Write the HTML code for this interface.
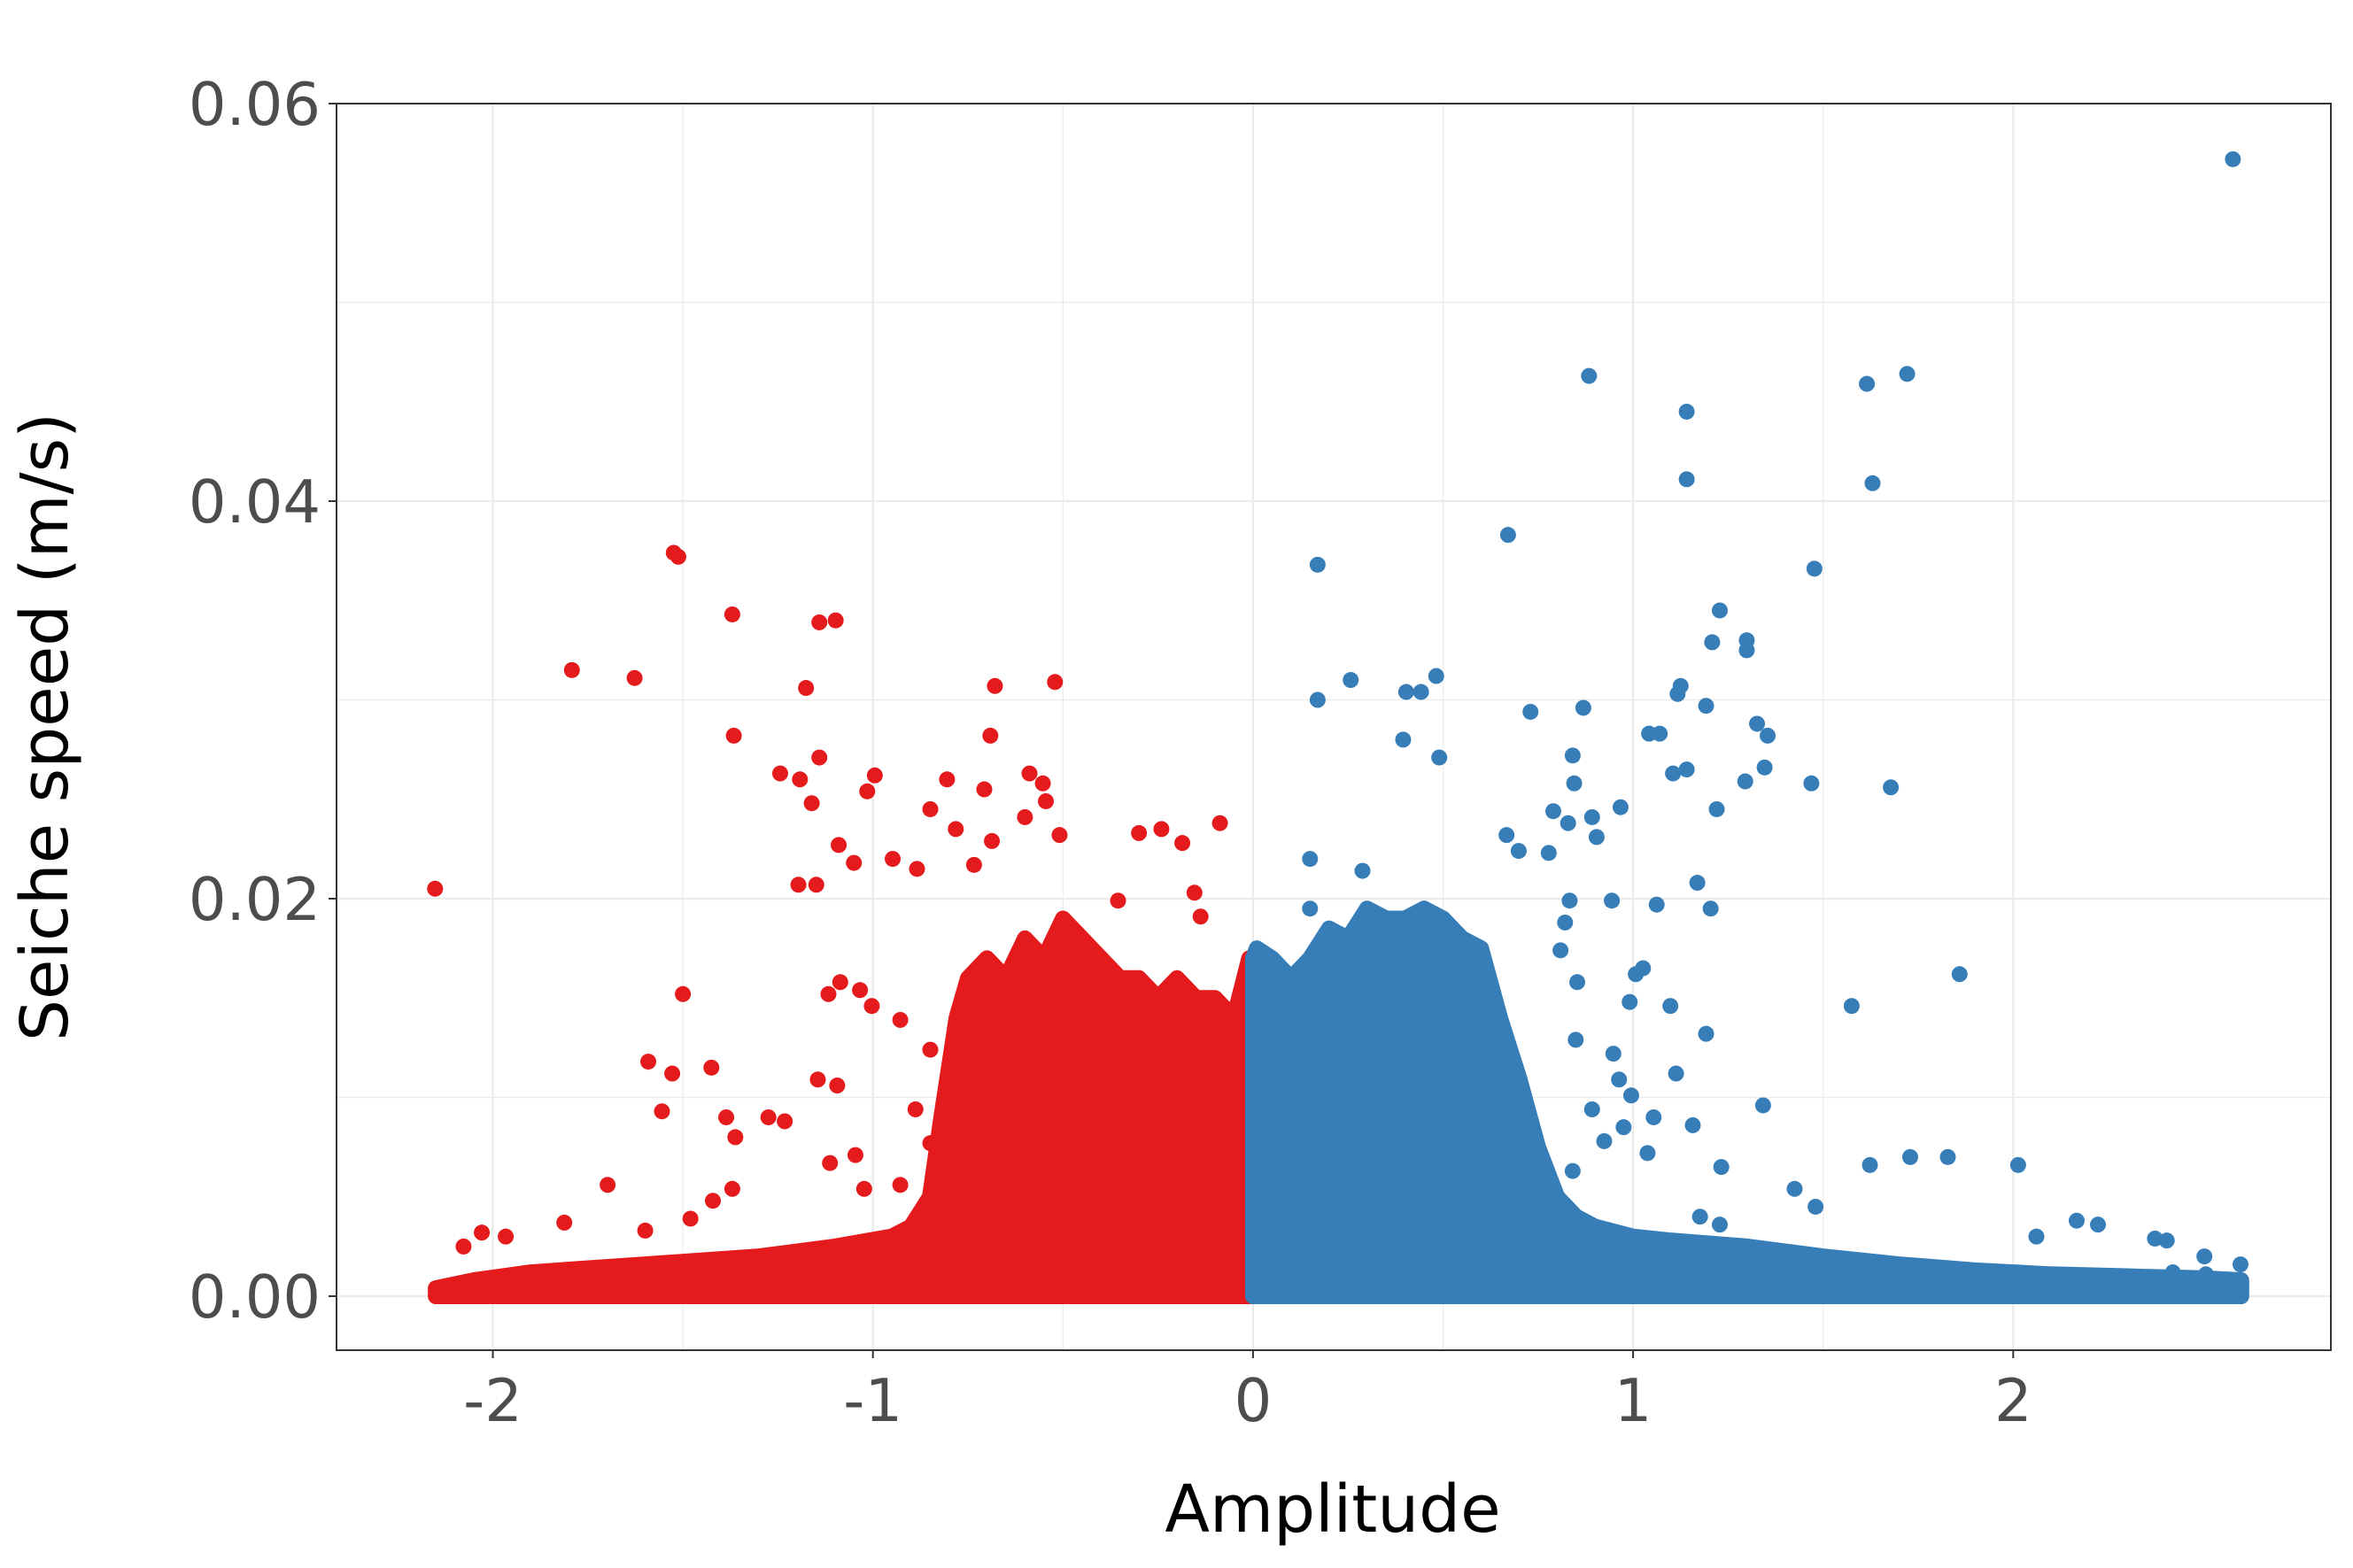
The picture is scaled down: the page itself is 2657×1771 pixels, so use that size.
<!DOCTYPE html>
<html><head><meta charset="utf-8"><style>
html,body{margin:0;padding:0;background:#fff;}
svg{display:block;}
text{font-family:"DejaVu Sans","Liberation Sans",sans-serif;}
</style></head><body>
<svg id="chart" width="2657" height="1771" viewBox="0 0 2657 1771" xmlns="http://www.w3.org/2000/svg">
<rect width="2657" height="1771" fill="#fff"/>
<g id="grid"></g>
<g id="dense"></g>
<g id="pts"></g>
<rect x="380" y="117" width="2252" height="1408" fill="none" stroke="#333" stroke-width="2"/>
<g id="axes"></g>
<text x="1505" y="1730" font-size="74" text-anchor="middle" fill="#000">Amplitude</text>
<text transform="translate(76,821) rotate(-90)" font-size="74" text-anchor="middle" fill="#000">Seiche speed (m/s)</text>
</svg>
<script>
const xTicks=[-2,-1,0,1,2];
const xTickLabels=["-2","-1","0","1","2"];
const xMinor=[-1.5,-0.5,0.5,1.5];
const yTicks=[0,0.02,0.04,0.06];
const yTickLabels=["0.00","0.02","0.04","0.06"];
const yMinor=[0.01,0.03,0.05];
// dense envelope (amplitude, upper speed)
const redEnvX=[-2.15,-2.05,-1.9,-1.6,-1.3,-1.1,-0.95,-0.9,-0.85,-0.82,-0.78,-0.75,-0.7,-0.65,-0.6,-0.55,-0.5,-0.45,-0.4,-0.35,-0.3,-0.25,-0.2,-0.15,-0.1,-0.05,-0.01,0];
const redEnvY=[0.0004,0.0008,0.0012,0.0016,0.002,0.0025,0.003,0.0035,0.005,0.009,0.014,0.016,0.017,0.016,0.018,0.017,0.019,0.018,0.017,0.016,0.016,0.015,0.016,0.015,0.015,0.014,0.017,0.017];
const blueEnvX=[0,0.01,0.05,0.1,0.15,0.2,0.25,0.3,0.35,0.4,0.45,0.5,0.55,0.6,0.65,0.7,0.75,0.8,0.85,0.9,1.0,1.1,1.3,1.5,1.7,1.9,2.1,2.3,2.5,2.6];
const blueEnvY=[0.017,0.0175,0.017,0.016,0.017,0.0185,0.018,0.0195,0.019,0.019,0.0195,0.019,0.018,0.0175,0.014,0.011,0.0075,0.005,0.004,0.0035,0.003,0.0028,0.0025,0.002,0.0016,0.0013,0.0011,0.001,0.0009,0.0008];
const redX=[-2.152,-1.524,-1.512,-1.792,-1.627,-1.370,-1.141,-1.098,-1.366,-1.176,-1.244,-1.141,-1.192,-1.161,-1.015,-0.995,-0.679,-0.521,-0.691,-0.707,-0.805,-0.588,-0.553,-0.545,-0.509,-0.600,-0.687,-0.734,-0.782,-0.849,-0.948,-0.884,-1.050,-1.090,-1.149,-1.196,-0.186,-0.087,-0.300,-0.241,-0.154,-0.138,-0.355,-1.500,-1.591,-1.528,-1.555,-1.425,-1.386,-1.362,-1.275,-1.232,-1.145,-1.094,-1.698,-1.812,-2.029,-1.966,-2.077,-1.599,-1.480,-1.421,-1.370,-1.113,-1.046,-1.023,-0.928,-0.849,-0.730,-0.888,-1.003,-1.117,-1.086,-1.034,-0.928,-0.849];
const redY=[0.0205,0.0374,0.0372,0.0315,0.0311,0.0343,0.0339,0.0340,0.0282,0.0306,0.0263,0.0271,0.0260,0.0248,0.0254,0.0262,0.0307,0.0309,0.0282,0.0255,0.0260,0.0263,0.0258,0.0249,0.0232,0.0241,0.0229,0.0217,0.0235,0.0245,0.0220,0.0215,0.0218,0.0227,0.0207,0.0207,0.0228,0.0238,0.0233,0.0235,0.0203,0.0191,0.0199,0.0152,0.0118,0.0112,0.0093,0.0115,0.0090,0.0080,0.0090,0.0088,0.0109,0.0106,0.0056,0.0037,0.0032,0.0030,0.0025,0.0033,0.0039,0.0048,0.0054,0.0067,0.0071,0.0054,0.0056,0.0077,0.0067,0.0094,0.0146,0.0152,0.0158,0.0154,0.0139,0.0124];
const blueX=[2.578,0.884,1.141,1.615,1.721,1.141,1.630,0.671,0.170,1.477,1.228,1.208,1.299,1.299,0.257,0.482,0.403,0.442,0.170,0.869,0.730,1.125,1.117,1.192,1.326,1.354,1.042,1.070,0.841,1.105,1.141,1.346,1.295,1.469,1.678,0.395,0.490,1.220,0.845,0.967,0.790,0.829,0.892,0.904,0.150,0.288,0.667,0.699,0.778,0.944,1.169,1.204,1.062,0.150,0.833,0.821,0.809,0.853,1.007,1.026,0.991,1.098,1.192,1.113,1.575,1.859,0.948,0.963,0.849,0.995,0.892,1.054,1.157,0.975,0.924,1.038,0.841,1.232,1.342,1.425,1.480,1.623,1.729,1.828,2.013,1.176,1.228,2.061,2.167,2.223,2.373,2.404,2.503,2.598,2.507,2.420,2.586];
const blueY=[0.0572,0.0463,0.0445,0.0459,0.0464,0.0411,0.0409,0.0383,0.0368,0.0366,0.0345,0.0329,0.0330,0.0325,0.0310,0.0312,0.0304,0.0304,0.0300,0.0296,0.0294,0.0307,0.0303,0.0297,0.0288,0.0282,0.0283,0.0283,0.0272,0.0263,0.0265,0.0266,0.0259,0.0258,0.0256,0.0280,0.0271,0.0245,0.0258,0.0246,0.0244,0.0238,0.0241,0.0231,0.0220,0.0214,0.0232,0.0224,0.0223,0.0199,0.0208,0.0195,0.0197,0.0195,0.0199,0.0188,0.0174,0.0158,0.0162,0.0165,0.0148,0.0146,0.0132,0.0112,0.0146,0.0162,0.0122,0.0109,0.0129,0.0101,0.0094,0.0090,0.0086,0.0085,0.0078,0.0072,0.0063,0.0065,0.0096,0.0054,0.0045,0.0066,0.0070,0.0070,0.0066,0.0040,0.0036,0.0030,0.0038,0.0036,0.0029,0.0028,0.0020,0.0016,0.0011,0.0012,0.0003];

const NS='http://www.w3.org/2000/svg';
const PL=380,PR=2632,PT=117,PB=1525;
function sx(v){return 1414.9+v*429.2;}
function sy(v){return 1464-v*22450;}
function mk(tag,attrs,parent){const e=document.createElementNS(NS,tag);for(const k in attrs)e.setAttribute(k,attrs[k]);parent.appendChild(e);return e;}
const grid=document.getElementById('grid'),axes=document.getElementById('axes');
yMinor.concat(yTicks).forEach(v=>{const l=mk('line',{x1:PL,x2:PR,y1:sy(v),y2:sy(v),stroke:'#ebebeb','stroke-width':yTicks.includes(v)?2.2:1.2},grid);

});
xMinor.concat(xTicks).forEach(v=>{const l=mk('line',{x1:sx(v),x2:sx(v),y1:PT,y2:PB,stroke:'#ebebeb','stroke-width':xTicks.includes(v)?2.2:1.2},grid);

});
yTicks.forEach((v,i)=>{mk('line',{x1:PL-9,x2:PL,y1:sy(v),y2:sy(v),stroke:'#333','stroke-width':2},axes);
const t=mk('text',{x:PL-18,y:sy(v)+24,'font-size':67,'text-anchor':'end',fill:'#4d4d4d'},axes);t.textContent=yTickLabels[i];

});
xTicks.forEach((v,i)=>{mk('line',{x1:sx(v),x2:sx(v),y1:PB,y2:PB+9,stroke:'#333','stroke-width':2},axes);
const t=mk('text',{x:sx(v),y:PB+80,'font-size':67,'text-anchor':'middle',fill:'#4d4d4d'},axes);t.textContent=xTickLabels[i];

});
const dense=document.getElementById('dense');
function env(xs,ys,col,name){let d='M'+sx(xs[0])+','+sy(0);xs.forEach((x,i)=>{d+=' L'+sx(x)+','+sy(ys[i]);});d+=' L'+sx(xs[xs.length-1])+','+sy(0)+' Z';
const p=mk('path',{d:d,fill:col,stroke:col,'stroke-width':18,'stroke-linejoin':'round'},dense);

}
env(redEnvX,redEnvY,'#e41a1c','negative-amplitude-cloud');
env(blueEnvX,blueEnvY,'#377eb8','positive-amplitude-cloud');
const pts=document.getElementById('pts');
redX.forEach((x,i)=>{const c=mk('circle',{cx:sx(x),cy:sy(redY[i]),r:9,fill:'#e41a1c'},pts);

});
blueX.forEach((x,i)=>{const c=mk('circle',{cx:sx(x),cy:sy(blueY[i]),r:9,fill:'#377eb8'},pts);

});
</script>
</body></html>
